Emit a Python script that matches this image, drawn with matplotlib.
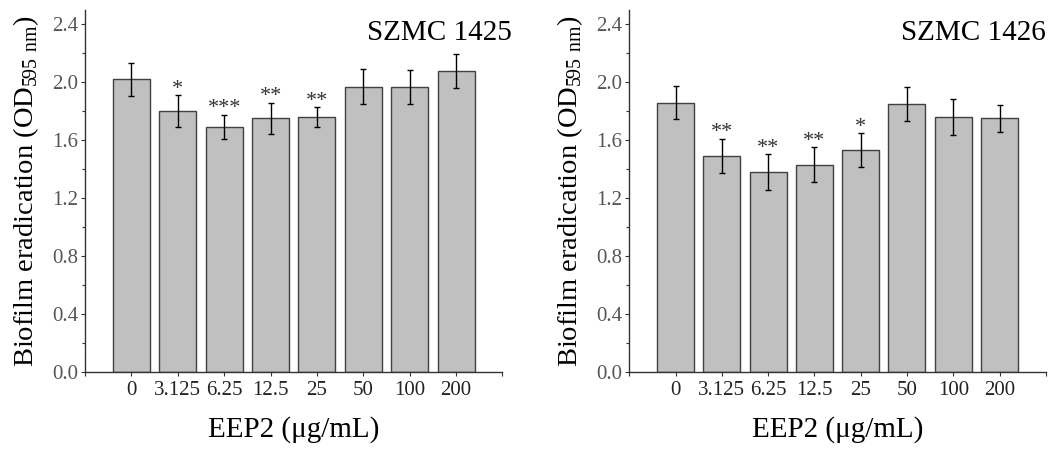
import numpy as np
import matplotlib
matplotlib.use('Agg')
import matplotlib.pyplot as plt
from matplotlib.ticker import MultipleLocator

plt.rcParams['font.family'] = 'Liberation Serif'
plt.rcParams['mathtext.fontset'] = 'custom'
plt.rcParams['mathtext.rm'] = 'Liberation Serif'

# concentrations of EEP2
concentrations = ['0', '3.125', '6.25', '12.5', '25', '50', '100', '200']

# SZMC 1425
means_1425 = [2.02, 1.80, 1.69, 1.75, 1.76, 1.97, 1.97, 2.08]
err_1425 = [0.115, 0.11, 0.085, 0.108, 0.068, 0.12, 0.117, 0.117]
stars_1425 = ['', '*', '***', '**', '**', '', '', '']

# SZMC 1426
means_1426 = [1.86, 1.49, 1.38, 1.43, 1.53, 1.85, 1.76, 1.75]
err_1426 = [0.115, 0.118, 0.122, 0.12, 0.117, 0.12, 0.125, 0.092]
stars_1426 = ['', '**', '**', '**', '*', '', '', '']

panels = [
    ('SZMC 1425', means_1425, err_1425, stars_1425, [0.0804, 0.172, 0.395, 0.806], 1.022),
    ('SZMC 1426', means_1426, err_1426, stars_1426, [0.5954, 0.172, 0.394, 0.806], 1.0),
]

fig = plt.figure(figsize=(10.57, 4.49), dpi=100)

for title, means, errs, stars, rect, tx in panels:
    ax = fig.add_axes(rect)
    x = np.arange(len(concentrations))
    ax.bar(x, means, width=0.8, color='#c0c0c0', edgecolor='#404040', linewidth=1.0)
    ax.errorbar(x, means, yerr=errs, fmt='none', ecolor='black', elinewidth=1.0,
                capsize=2.5, capthick=1.0)
    for xi, m, e, s in zip(x, means, errs, stars):
        if s:
            ax.annotate(s, (xi, m + e), xytext=(0, -2.5), textcoords='offset points',
                        ha='center', va='bottom', fontsize=16, color='#333333')

    ax.set_xlim(-1, 8)
    ax.set_ylim(0, 2.5)
    ax.set_xticks(list(range(-1, 9)))
    ax.set_xticklabels([''] + concentrations + [''])
    ax.yaxis.set_major_locator(MultipleLocator(0.4))
    ax.yaxis.set_minor_locator(MultipleLocator(0.2))
    ax.yaxis.set_major_formatter(matplotlib.ticker.FormatStrFormatter('%.1f'))

    for side in ['top', 'right']:
        ax.spines[side].set_visible(False)
    for side in ['left', 'bottom']:
        ax.spines[side].set_color('#333333')
        ax.spines[side].set_linewidth(1.0)

    ax.tick_params(axis='both', which='major', direction='out', length=3,
                   width=0.8, color='#333333', labelsize=15, labelcolor='#555555')
    ax.tick_params(axis='x', pad=4, labelcolor='#222222')
    ax.tick_params(axis='y', which='minor', direction='out', length=2, width=0.8,
                   color='#333333')
    ax.tick_params(axis='y', pad=2)

    ax.set_ylabel(r'Biofilm eradication (OD$_{\mathregular{595\ nm}}$)', fontsize=20.5,
                  labelpad=8)
    ax.set_xlabel('EEP2 (\u03bcg/mL)', fontsize=21, labelpad=11)
    ax.text(tx, 0.936, title, transform=ax.transAxes, ha='right', va='center',
            fontsize=21)

plt.savefig('out.png', dpi=100)
